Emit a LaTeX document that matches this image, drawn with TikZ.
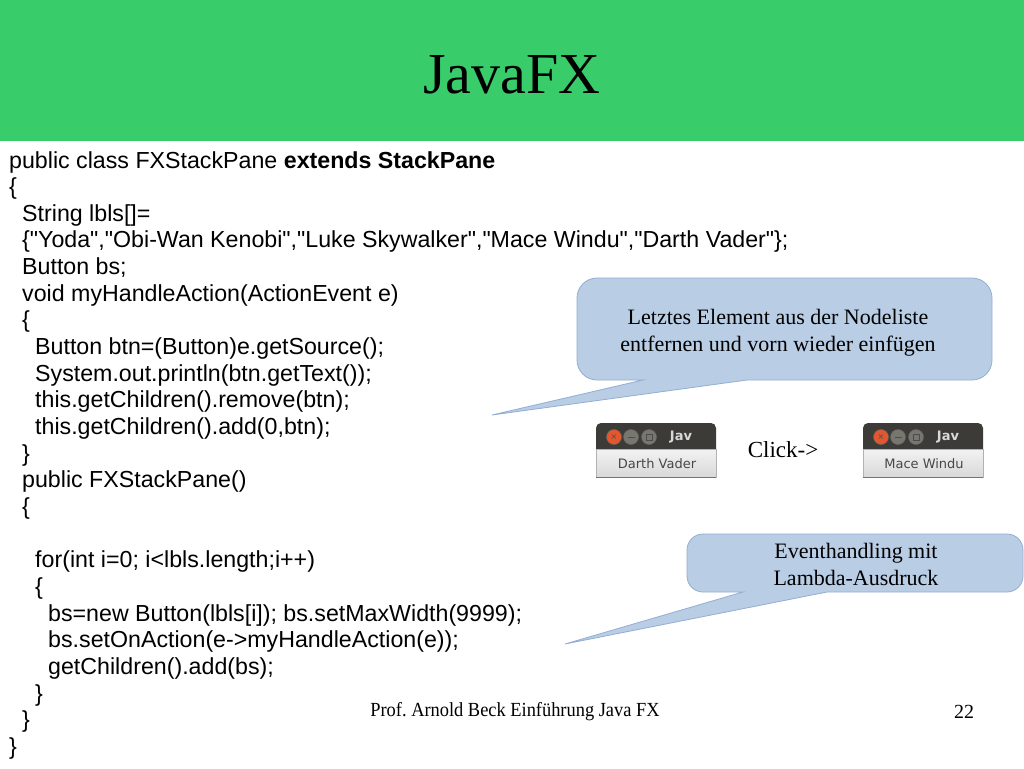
\documentclass[tikz,border=0pt]{standalone}
\usepackage{fontspec}
\setmainfont{Liberation Serif}
\newfontfamily\codefont{Liberation Sans}
\newfontfamily\uifont{DejaVu Sans}
\definecolor{hdrgreen}{HTML}{38CC6A}
\definecolor{callfill}{HTML}{B9CDE5}
\definecolor{calldraw}{HTML}{93AED3}
\definecolor{titlebar}{HTML}{3C3B37}
\definecolor{closered}{HTML}{E5562D}
\definecolor{ballgray}{HTML}{77766F}
\frenchspacing
\begin{document}
\begin{tikzpicture}[x=1pt,y=-1pt,
  code/.style={anchor=base west,inner sep=0pt,font=\codefont\fontsize{23.2}{26}\selectfont},
  callout/.style={fill=callfill,draw=calldraw,line width=0.8pt},
  calltext/.style={align=center,inner sep=0pt,font=\fontsize{22}{27}\selectfont},
  winball/.style={draw=black!60,line width=0.5pt}]
\useasboundingbox (0,0) rectangle (1024,768);
\fill[white] (0,0) rectangle (1024,768);
% header
\fill[hdrgreen] (0,0) rectangle (1024,141);
\node[font=\fontsize{58}{60}\selectfont] (title) at (512,75) {JavaFX};
% code
\node[code] (l1) at (9,168) {public class FXStackPane \textbf{extends StackPane}};
\node[code] (l2) at (9,194.65) {\{};
\node[code] (l3) at (22,221.3) {String lbls[]=};
\node[code] (l4) at (22,247.95) {\{"Yoda","Obi-Wan Kenobi","Luke Skywalker","Mace Windu","Darth Vader"\};};
\node[code] (l5) at (22,274.6) {Button bs;};
\node[code] (l6) at (22,301.25) {void myHandleAction(ActionEvent e)};
\node[code] (l7) at (22,327.9) {\{};
\node[code] (l8) at (35,354.55) {Button btn=(Button)e.getSource();};
\node[code] (l9) at (35,381.2) {System.out.println(btn.getText());};
\node[code] (l10) at (35,407.85) {this.getChildren().remove(btn);};
\node[code] (l11) at (35,434.5) {this.getChildren().add(0,btn);};
\node[code] (l12) at (22,461.15) {\}};
\node[code] (l13) at (22,487.8) {public FXStackPane()};
\node[code] (l14) at (22,514.45) {\{};
\node[code] (l16) at (35,567.75) {for(int i=0; i<lbls.length;i++)};
\node[code] (l17) at (35,594.4) {\{};
\node[code] (l18) at (48,621.05) {bs=new Button(lbls[i]); bs.setMaxWidth(9999);};
\node[code] (l19) at (48,647.7) {bs.setOnAction(e->myHandleAction(e));};
\node[code] (l20) at (48,674.35) {getChildren().add(bs);};
\node[code] (l21) at (35,701) {\}};
\node[code] (l22) at (22,727.65) {\}};
\node[code] (l23) at (9,754.3) {\}};
% callout 1
\draw[callout] (643,380) -- (492,415) -- (747,380) [rounded corners=20pt] -- (992,380) -- (992,278) -- (577,278) -- (577,380) [sharp corners] -- cycle;
\node[calltext] (c1) at (778,333) {Letztes Element aus der Nodeliste\\entfernen und vorn wieder einfügen};
% callout 2
\draw[callout] (743,592) -- (565,644) -- (827,592) [rounded corners=16pt] -- (1023,592) -- (1023,534) -- (687,534) -- (687,592) [sharp corners] -- cycle;
\node[calltext] (c2) at (856,564) {Eventhandling mit\\Lambda-Ausdruck};
% click label
\node[font=\fontsize{23}{24}\selectfont,inner sep=0pt] (click) at (783,450) {Click->};
% windows
\foreach \ox/\lab/\nm in {596/Darth Vader/wa,863/Mace Windu/wb}{
  \fill[titlebar,rounded corners=5pt] (\ox,455) rectangle ({\ox+120},423);
  \shade[top color=white!95!black,bottom color=white!85!black] (\ox,449) rectangle ({\ox+120},477);
  \draw[black!30,line width=0.6pt] (\ox,449) rectangle ({\ox+120},477);
  \draw[black!55,line width=1pt] (\ox,477) -- ({\ox+120},477);
  \fill[winball,fill=closered] ({\ox+18},437) circle (7.5);
  \node[font=\uifont\fontsize{8}{8}\selectfont\bfseries,text=black!65,inner sep=0pt] at ({\ox+18},437) {×};
  \fill[winball,fill=ballgray] ({\ox+35},437) circle (7.5);
  \draw[black!70,line width=1pt] ({\ox+31.5},437) -- ({\ox+38.5},437);
  \fill[winball,fill=ballgray] ({\ox+53},437) circle (7.5);
  \draw[black!70,line width=0.8pt] ({\ox+50},434) rectangle ({\ox+56},440);
  \node[font=\uifont\fontsize{13}{13}\selectfont\bfseries,text=white!85!black,inner sep=0pt] (\nm t) at ({\ox+85},437) {Jav};
  \node[font=\uifont\fontsize{13}{13}\selectfont,text=black!72,inner sep=0pt] (\nm b) at ({\ox+61},464) {\lab};
}
% footer
\node[font=\fontsize{20}{20}\selectfont,xscale=0.92,inner sep=0pt] (foot) at (515,712) {Prof. Arnold Beck Einführung Java FX};
\node[font=\fontsize{20}{20}\selectfont,inner sep=0pt] (page) at (964,712) {22};
\end{tikzpicture}
\end{document}
